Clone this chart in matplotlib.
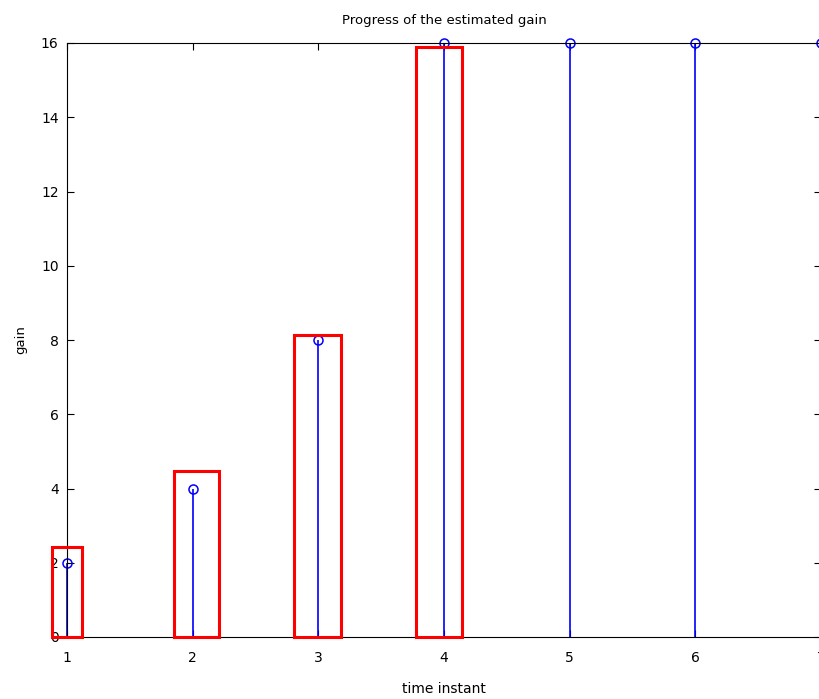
import matplotlib
matplotlib.use('Agg')
import matplotlib.pyplot as plt
from matplotlib.patches import Rectangle
import numpy as np

t = [1, 2, 3, 4, 5, 6, 7]
gain = [2, 4, 8, 16, 16, 16, 16]

# red highlight boxes: (x0, x1, top)
box_x0 = [0.88, 1.85, 2.81, 3.78]
box_x1 = [1.12, 2.21, 3.18, 4.14]
box_top = [2.42, 4.47, 8.13, 15.89]

fig = plt.figure(figsize=(8.19, 6.99), dpi=100)
ax = fig.add_axes([67/819, 1-637/699, (821-67)/819, (637-43)/699])

ml, sl, bl = ax.stem(t, gain, basefmt=' ')
plt.setp(sl, color='blue', linewidth=1.2)
plt.setp(ml, color='blue', markerfacecolor='none', markersize=6.5, markeredgewidth=1.1)
for s in [ml, sl]:
    s.set_clip_on(False)

for a, b, h in zip(box_x0, box_x1, box_top):
    ax.add_patch(Rectangle((a, 0), b - a, h, fill=False, edgecolor='red',
                           linewidth=2.2, clip_on=False, zorder=5))

ax.set_xlim(1, 7)
ax.set_ylim(0, 16)
ax.set_xticks(range(1, 8))
ax.set_yticks(range(0, 17, 2))
ax.tick_params(direction='in', top=True, right=True, labelsize=10, length=5, width=0.8)
ax.tick_params(axis='x', pad=10)
ax.tick_params(axis='y', pad=6)
for sp in ax.spines.values():
    sp.set_linewidth(0.8)
ax.set_title('Progress of the estimated gain', fontsize=9.5, pad=14)
ax.set_xlabel('time instant', fontsize=10, labelpad=12)
ax.set_ylabel('gain', fontsize=9.5, labelpad=10)

fig.savefig('out.png', dpi=100)
